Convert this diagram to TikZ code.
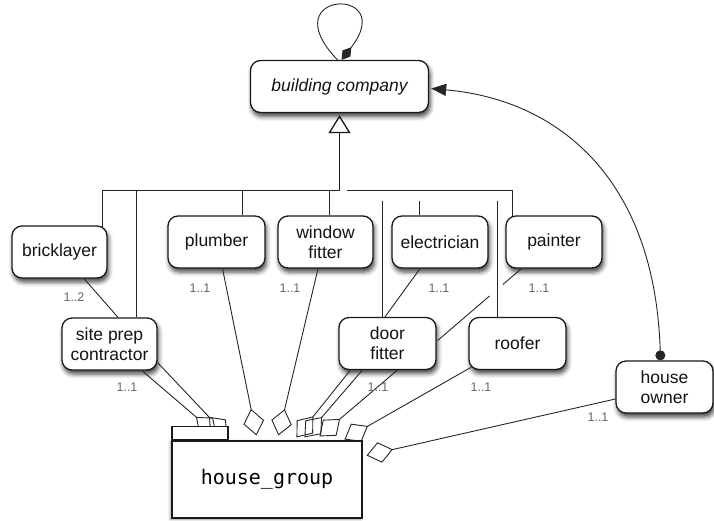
\documentclass[tikz,border=0pt]{standalone}
\usepackage{fontspec}
\setmainfont{Liberation Sans}
\newfontfamily\codefont{DejaVu Sans Mono}
\usetikzlibrary{arrows.meta,calc,shadows.blur}
\pgfdeclarelayer{assoc}
\pgfdeclarelayer{pkg}
\pgfsetlayers{main,assoc,pkg}

\begin{document}
\begin{tikzpicture}[x=1pt,y=-1pt,
  cls/.style={draw=black!90, line width=1.3pt, rounded corners=10pt, fill=white,
    minimum width=96pt, minimum height=52pt, align=center, inner sep=2pt,
    text=black!92, font=\fontsize{17.5}{20}\selectfont,
    blur shadow={shadow xshift=1.5pt, shadow yshift=-4pt,
      shadow blur radius=4.5pt, shadow opacity=75}},
  pkgbody/.style={draw=black!90, line width=1.1pt, fill=white,
    minimum width=190pt, minimum height=77pt, inner sep=0pt,
    font=\codefont\fontsize{20}{24}\selectfont,
    blur shadow={shadow xshift=-1.5pt, shadow yshift=-1pt,
      shadow blur radius=3pt, shadow opacity=40}},
  pkgtab/.style={draw=black!90, line width=1.1pt, fill=white,
    minimum width=56pt, minimum height=13pt, inner sep=0pt},
  mult/.style={font=\fontsize{12.5}{14}\selectfont, text=black!60, inner sep=0pt},
  link/.style={draw=black!85, line width=0.9pt},
  tree/.style={draw=black!85, line width=1pt},
  gen/.style={draw=black!90, line width=1.3pt,
    -{Triangle[open, length=18pt, width=22pt, line width=1.3pt]}},
  part/.style={link, -{Diamond[open, length=27pt, width=21pt, line width=0.9pt]}},
  selfpart/.style={link, -{Diamond[length=16pt, width=10pt]}},
  nav/.style={link, {Circle[length=10pt]}-{Triangle[length=15pt, width=12pt]}}
]
\useasboundingbox (0,0) rectangle (714,520);

% ---------- classes ----------
\node[cls, minimum width=178pt] (bc) at (339.5,86.5) {\itshape building company};
\node[cls, minimum width=95pt] (brick) at (59.5,252) {bricklayer};
\node[cls, minimum width=97pt] (plumb) at (216.5,242) {plumber};
\node[cls, minimum width=95pt] (wf) at (325.5,242) {window\\fitter};
\node[cls] (elec) at (440,242) {electrician};
\node[cls] (paint) at (554,242) {painter};
\node[cls, minimum width=95pt] (site) at (109.5,344) {site prep\\contractor};
\node[cls, minimum width=97pt] (door) at (387.5,343.5) {door\\fitter};
\node[cls, minimum width=97pt] (roof) at (517.5,343.5) {roofer};
\node[cls, minimum width=97pt] (owner) at (664.5,387) {house\\owner};

% ---------- package ----------
\begin{pgfonlayer}{pkg}
\node[pkgbody] (hg) at (267,479.5) {house\_group};
\node[pkgtab, anchor=south west] (hgtab) at (hg.north west) {};
\end{pgfonlayer}

% ---------- generalisation tree ----------
\coordinate (gentop) at ($(bc.south)+(0,77.5)$);
\coordinate (genhop) at ($(gentop)+(0,10)$);
\draw[gen] (gentop) -- ($(bc.south)+(0,2)$);
\draw[tree] ($(brick.north east)+(-5,1.3)$) |- (gentop);
\draw[tree] ($(site.north)+(26.5,0)$) |- (gentop);
\draw[tree] ($(plumb.north)+(25.5,0)$) |- (gentop);
\draw[tree] ($(wf.north)+(3.5,0)$) |- (gentop);
\draw[tree] ($(paint.north west)+(7,0.5)$) |- ($(gentop)+(7.5,0)$);
\path ($(door.north)+(-5.5,0)$) coordinate (dfg)
      ($(elec.north)+(-21,0)$) coordinate (elg)
      ($(roof.north)+(-20.5,0)$) coordinate (rfg);
\draw[tree] (dfg) -- (dfg |- genhop);
\draw[tree] (elg) -- (elg |- genhop);
\draw[tree] (rfg) -- (rfg |- genhop);

% ---------- associations ----------
\begin{pgfonlayer}{assoc}
\draw[selfpart] ($(bc.north)+(-2,0)$) .. controls (270,-10) and (400,-15) .. ($(bc.north)+(2,0)$);

\draw[link] ($(brick.south)+(24.5,0)$) -- ($(site.north)+(8.5,0)$);
\draw[link] ($(elec.south)+(-20,0)$) -- ($(door.north)+(-2.5,0)$);
\coordinate (pA) at ($(paint.south west)+(16,0)$);
\coordinate (pB) at ($(door.east)+(1,-3)$);
\draw[link] (pA) -- ($(pA)!0.22!(pB)$);
\draw[link] ($(pA)!0.38!(pB)$) -- (pB);

\draw[part] ($(site.south)+(32.5,0)$) -- ($(hg.north west)+(45,-6)$);
\draw[part] ($(site.south east)+(0,-8)$) -- ($(hg.north west)+(56,-4)$);
\draw[part] ($(plumb.south)+(6,0)$) -- ($(hg.north west)+(85,-5)$);
\draw[part] ($(wf.south)+(-7.5,0)$) -- ($(hg.north west)+(107,-5)$);
\draw[part] ($(door.south west)+(12,0)$) -- ($(hg.north west)+(125,-3)$);
\draw[part] ($(door.south west)+(24,0)$) -- ($(hg.north west)+(133,-3)$);
\draw[part] ($(door.south west)+(59,0)$) -- ($(hg.north west)+(148,-4)$);
\draw[part] ($(roof.south west)+(3,-3)$) -- ($(hg.north west)+(173,-1)$);
\draw[part] ($(owner.west)+(0,12)$) -- ($(hg.north east)+(4,15)$);

\draw[nav] ($(owner.north)+(-4,0)$) .. controls (655,180) and (560,100) .. ($(bc.east)+(2,2)$);

% multiplicities
\node[mult] (mbrick) at (74,297) {1..2};
\node[mult] (mplumb) at (200,288) {1..1};
\node[mult] (mwf) at (290,288) {1..1};
\node[mult] (melec) at (439,288) {1..1};
\node[mult] (mpaint) at (539,288) {1..1};
\node[mult] (msite) at (127,387) {1..1};
\node[mult] (mdoor) at (378,387) {1..1};
\node[mult] (mroof) at (481,387) {1..1};
\node[mult] (mowner) at (598,417) {1..1};
\end{pgfonlayer}
\end{tikzpicture}
\end{document}
